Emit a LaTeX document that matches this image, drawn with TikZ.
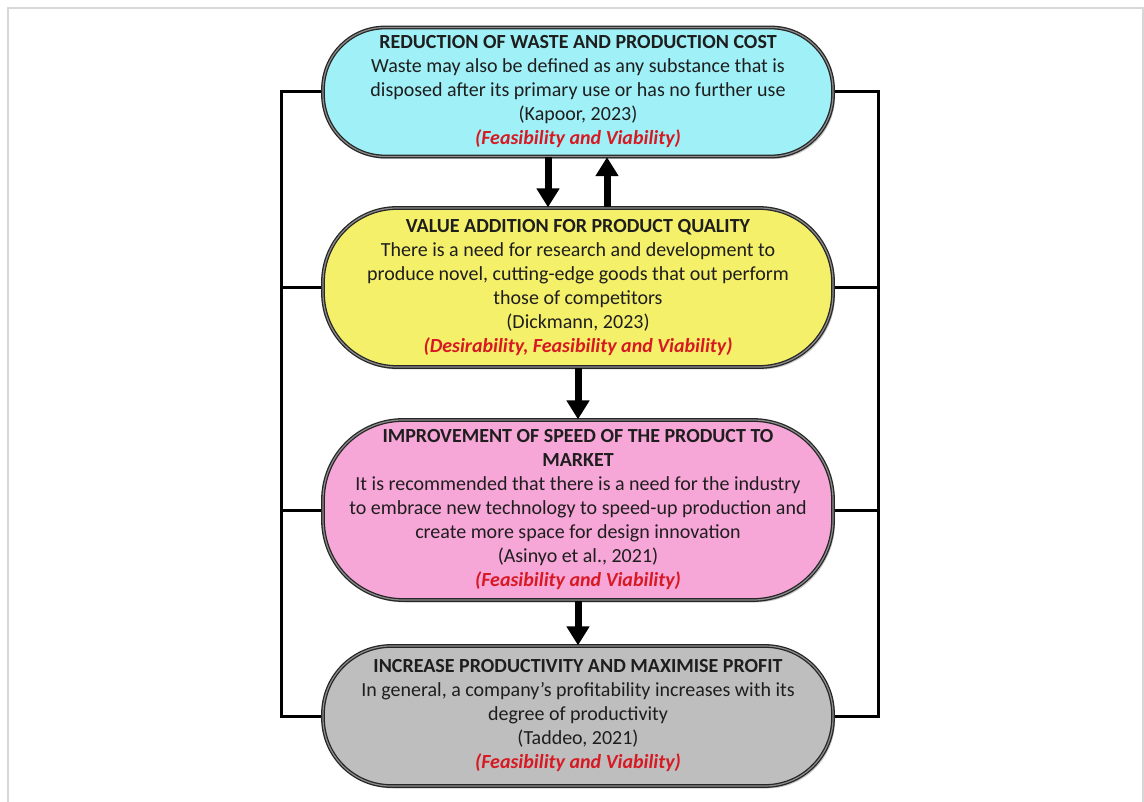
\documentclass[tikz,border=0pt]{standalone}
\usepackage{fontspec}
\setmainfont{Carlito}
\usetikzlibrary{arrows.meta,backgrounds,shadows}

\definecolor{pillcyan}{RGB}{160,240,247}
\definecolor{pillyellow}{RGB}{245,240,105}
\definecolor{pillpink}{RGB}{247,166,216}
\definecolor{pillgray}{RGB}{190,190,190}
\definecolor{critred}{RGB}{215,25,35}
\definecolor{textdark}{RGB}{30,30,30}
\definecolor{framegray}{RGB}{215,215,215}

\newcommand{\crit}[1]{{\color{critred}\bfseries\itshape #1}}
\newcommand{\ttl}[1]{{\bfseries #1}}

\begin{document}
\begin{tikzpicture}[x=1pt,y=-1pt,
  pill/.style={draw=black!85, line width=1.3pt, double=black!45,
    double distance=1.2pt, minimum width=510pt,
    align=center, inner sep=0pt, text=textdark,
    font=\fontsize{20}{24}\selectfont,
    drop shadow={shadow xshift=2pt, shadow yshift=-2.5pt, opacity=0.45}},
  link/.style={line width=3pt, black},
  flow/.style={line width=7pt, black,
    -{Triangle[width=22pt,length=19pt]}}]

\useasboundingbox (0,0) rectangle (1144,802);
\draw[framegray, line width=1.5pt] (8,802) -- (8,8) -- (1143,8) -- (1143,802);

% the four stages
\node[pill, fill=pillcyan, minimum height=129pt, rounded corners=62pt] (b1) at (578,92)
  {\ttl{REDUCTION OF WASTE AND PRODUCTION COST}\\
   Waste may also be defined as any substance that is\\
   disposed after its primary use or has no further use\\
   (Kapoor, 2023)\\
   \crit{(Feasibility and Viability)}};

\node[pill, fill=pillyellow, minimum height=159pt, rounded corners=74pt] (b2) at (578,287.5)
  {\ttl{VALUE ADDITION FOR PRODUCT QUALITY}\\
   There is a need for research and development to\\
   produce novel, cutting-edge goods that out perform\\
   those of competitors\\
   (Dickmann, 2023)\\
   \crit{(Desirability, Feasibility and Viability)}};

\node[pill, fill=pillpink, minimum height=180pt, rounded corners=80pt] (b3) at (578,510)
  {\ttl{IMPROVEMENT OF SPEED OF THE PRODUCT TO}\\
   \ttl{MARKET}\\
   It is recommended that there is a need for the industry\\
   to embrace new technology to speed-up production and\\
   create more space for design innovation\\
   (Asinyo et al., 2021)\\
   \crit{(Feasibility and Viability)}};

\node[pill, fill=pillgray, minimum height=140pt, rounded corners=68pt] (b4) at (578,716)
  {\ttl{INCREASE PRODUCTIVITY AND MAXIMISE PROFIT}\\
   In general, a company’s profitability increases with its\\
   degree of productivity\\
   (Taddeo, 2021)\\
   \crit{(Feasibility and Viability)}};

% side rails tying every stage together
\coordinate (L) at (281,0);
\coordinate (R) at (878,0);
\begin{scope}[on background layer]
  \draw[link] (b1.west) -- (b1.west -| L) -- (b4.west -| L) -- (b4.west);
  \draw[link] (b2.west -| L) -- (b2.west);
  \draw[link] (b3.west -| L) -- (b3.west);
  \draw[link] (b1.east) -- (b1.east -| R) -- (b4.east -| R) -- (b4.east);
  \draw[link] (b2.east -| R) -- (b2.east);
  \draw[link] (b3.east -| R) -- (b3.east);
\end{scope}

% flow arrows
\draw[flow] ([xshift=-30pt]b1.south) -- ([xshift=-30pt]b2.north);
\draw[flow] ([xshift=29pt]b2.north) -- ([xshift=29pt]b1.south);
\draw[flow] (b2.south) -- (b3.north);
\draw[flow] (b3.south) -- (b4.north);

\end{tikzpicture}
\end{document}
